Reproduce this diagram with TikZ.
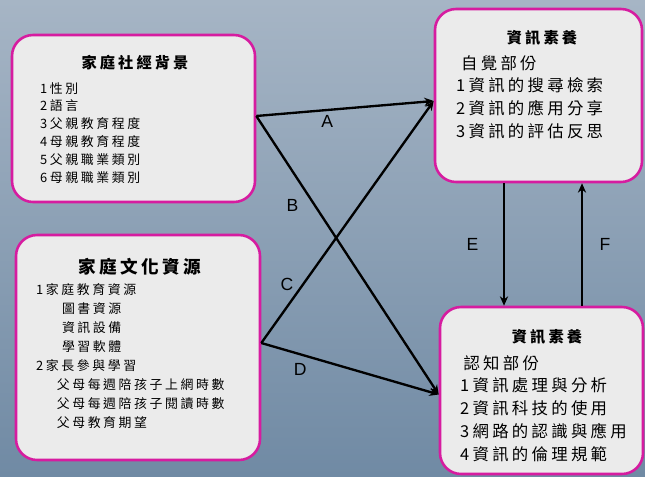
\documentclass[tikz,border=0pt]{standalone}
\usepackage{fontspec}
\usepackage{tikz}
\usetikzlibrary{arrows.meta,calc}
\newfontfamily\cjk[LetterSpace=20]{Noto Sans CJK TC}
\newfontfamily\letras{Liberation Sans}
\definecolor{FondoArriba}{RGB}{166,181,197}
\definecolor{FondoAbajo}{RGB}{112,138,164}
\definecolor{BordeCaja}{RGB}{214,28,160}
\definecolor{RellenoCaja}{RGB}{235,235,235}

\begin{document}
\begin{tikzpicture}[x=0.03cm,y=-0.03cm,>={Stealth[length=8pt,width=7pt]},
  caja/.style={draw=BordeCaja,line width=2.2pt,fill=RellenoCaja,rounded corners=18pt,inner sep=0pt},
  titulo/.style={inner sep=0pt,font=\cjk\bfseries\fontsize{#1}{#1}\selectfont},
  lista/.style={anchor=north west,align=left,inner sep=0pt},
  flecha/.style={->,line width=2pt},
  letra/.style={inner sep=1pt,font=\letras\fontsize{15}{15}\selectfont}]
  \useasboundingbox (0,0) rectangle (645,476);
  \shade[top color=FondoArriba,bottom color=FondoAbajo] (0,0) rectangle (645,476);

  % cajas
  \node[caja,minimum width=7.29cm,minimum height=5.01cm] (fam) at (133.5,118.5) {};
  \node[caja,minimum width=7.32cm,minimum height=6.75cm] (cult) at (138,347.5) {};
  \node[caja,minimum width=6.21cm,minimum height=5.19cm] (info1) at (538.5,95.5) {};
  \node[caja,minimum width=6.09cm,minimum height=5.01cm] (info2) at (541.5,390.5) {};

  % textos
  \node[titulo=13] (famT) at (135,63) {家庭社經背景};
  \node[lista,font=\cjk\fontsize{11}{15.3}\selectfont] (famL) at (40,82)
    {1性別\\2語言\\3父親教育程度\\4母親教育程度\\5父親職業類別\\6母親職業類別};
  \node[titulo=15] (cultT) at (140,267) {家庭文化資源};
  \node[lista,font=\cjk\fontsize{11}{16.2}\selectfont] (cultL) at (36,283)
    {1家庭教育資源\\
     \hspace{2em}圖書資源\\
     \hspace{2em}資訊設備\\
     \hspace{2em}學習軟體\\
     2家長參與學習\\
     \hspace{1.6em}父母每週陪孩子上網時數\\
     \hspace{1.6em}父母每週陪孩子閱讀時數\\
     \hspace{1.6em}父母教育期望};
  \node[titulo=13] (info1T) at (542,38) {資訊素養};
  \node[lista,font=\cjk\fontsize{14}{19.5}\selectfont] (info1L) at (456,55)
    {\hspace{0.3em}自覺部份\\1資訊的搜尋檢索\\2資訊的應用分享\\3資訊的評估反思};
  \node[titulo=13] (info2T) at (547,337) {資訊素養};
  \node[lista,font=\cjk\fontsize{14}{19.5}\selectfont] (info2L) at (460,355)
    {\hspace{0.2em}認知部份\\1資訊處理與分析\\2資訊科技的使用\\3網路的認識與應用\\4資訊的倫理規範};

  % flechas
  \draw[flecha] ($(fam.east)+(0,-2.5)$) -- ($(info1.west)+(0,5.5)$) node[letra,pos=0.4,below=3pt] {A};
  \draw[flecha] ($(fam.east)+(0,-2.5)$) -- ($(info2.west)+(0,4)$) node[letra,pos=0.32,left=12pt] {B};
  \draw[flecha] ($(cult.east)+(0,-4.5)$) -- ($(info1.west)+(0,5.5)$) node[letra,pos=0.24,left=6pt] {C};
  \draw[flecha] ($(cult.east)+(0,-4.5)$) -- ($(info2.west)+(0,4)$) node[letra,pos=0.22,below=6pt] {D};
  \coordinate (e1) at ($(info1.south)+(-34.5,0)$);
  \coordinate (f1) at ($(info2.north)+(40.5,0)$);
  \draw[flecha] (e1) -- (e1 |- info2.north) node[letra,midway,left=20pt] {E};
  \draw[flecha] (f1) -- (f1 |- info1.south) node[letra,midway,right=13pt] {F};
\end{tikzpicture}
\end{document}
